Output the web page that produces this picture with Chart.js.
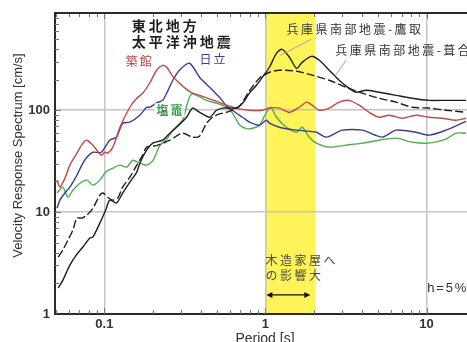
<!DOCTYPE html>
<html><head><meta charset="utf-8">
<script src="https://cdn.jsdelivr.net/npm/chart.js@4"></script>
<style>html,body{margin:0;padding:0;overflow:hidden;background:#fff}</style>
</head><body>
<canvas id="c" width="478" height="342"></canvas>
<script>
// ---- data ----
const periodRange = [0.0494, 20];
const velocityRange = [1, 900];
const xTickLabels = ['0.1', '1', '10'];
const yTickLabels = ['1', '10', '100'];
const woodHouseBand = [1, 2.05];

const tsukidatePeriod = [0.0508,0.053,0.0569,0.0611,0.0676,0.0736,0.0779,0.0849,0.0899,0.0958,0.1007,0.105,0.113,0.125,0.144,0.159,0.173,0.191,0.211,0.230,0.244,0.266,0.293,0.324,0.353,0.407,0.497,0.574,0.661,0.796,0.958,1.059,1.22,1.41,1.62,1.80,1.95,2.16,2.49,2.87,3.31,3.82,4.40,5.08,5.86,7.05,8.61,10.36,12.5,15.2,17.6];
const tsukidateVel = [20.6,17.6,21.5,28.9,37.9,47.5,50.8,45.4,40.5,36.2,38.7,37.9,43.4,68.1,107,131,147,184,247,276,264,215,184,160,147,137,122,112,105,100,100,105,105,95.5,107,120,112,100,105,120,125,112,95.5,85.4,89.3,83.5,89.3,85.4,83.5,79.8,83.5];

const hitachiPeriod = [0.0508,0.053,0.0569,0.0611,0.0676,0.0736,0.0779,0.0849,0.0958,0.108,0.119,0.130,0.144,0.166,0.183,0.191,0.211,0.230,0.244,0.266,0.293,0.338,0.390,0.450,0.519,0.574,0.661,0.721,0.796,0.918,1.014,1.059,1.22,1.56,2.07,2.39,3.0,3.99,5.30,6.47,8.61,10.36,13.2,16.6,17.6];
const hitachiVel = [10.9,13.1,15.4,17.6,23.1,30.2,34.6,38.7,38.7,50.8,54.4,74.6,76.3,89.3,107,107,118,125,147,197,247,289,211,168,134,110,93.5,85.4,76.3,71.3,79.8,74.6,68.1,63.7,60.8,54.4,63.7,63.7,54.4,63.7,60.8,56.9,63.7,74.6,77.9];

const shiogamaPeriod = [0.0508,0.0553,0.0594,0.0638,0.0705,0.0779,0.0849,0.0938,0.102,0.113,0.125,0.138,0.150,0.166,0.183,0.200,0.221,0.244,0.266,0.306,0.324,0.338,0.353,0.380,0.431,0.497,0.574,0.625,0.690,0.763,0.831,0.918,1.014,1.08,1.17,1.35,1.56,1.69,1.87,2.07,2.49,3.17,3.99,5.08,6.47,8.13,10.36,13.2,15.2,17.6];
const shiogamaVel = [15.4,17.6,14.0,16.4,19.2,20.6,18.4,20.6,24.7,27.0,28.9,27.6,32.3,30.2,28.9,32.0,45.0,52.0,63.7,80.0,110,135,145,138,125,117,107,93.5,72.0,66.0,66.6,71.3,95.5,107,85.4,68.1,60.8,68.1,54.4,47.5,43.4,45.4,47.5,50.8,53.2,48.6,47.5,52,59.5,59.5];

const takatoriPeriod = [0.0517,0.0553,0.0611,0.0676,0.0736,0.0813,0.0849,0.0938,0.102,0.108,0.119,0.130,0.144,0.159,0.166,0.183,0.200,0.230,0.255,0.281,0.324,0.353,0.390,0.450,0.497,0.542,0.598,0.661,0.721,0.796,0.880,0.958,1.059,1.17,1.27,1.41,1.56,1.69,1.93,2.16,2.49,2.87,3.31,3.66,4.22,5.08,6.47,8.13,10.36,13.2,17.6];
const takatoriVel = [1.80,2.15,3.02,3.87,4.54,5.56,5.69,7.80,10.5,13.1,12.3,15.4,19.7,24.7,30.2,40.5,47.5,50.8,59.5,68.1,85.4,105,95.5,85.4,100,105,105,105,117,147,176,211,264,362,396,331,258,295,338,309,247,197,164,150,157,150,140,131,125,125,125];

const fukiaiPeriod = [0.0517,0.0553,0.0594,0.0638,0.0676,0.0726,0.0779,0.0849,0.0938,0.0979,0.105,0.113,0.121,0.130,0.144,0.159,0.173,0.183,0.211,0.255,0.306,0.353,0.390,0.431,0.470,0.519,0.574,0.690,0.796,0.918,1.059,1.22,1.56,1.95,2.49,3.17,3.99,5.08,6.47,8.13,10.36,13.2,17.6];
const fukiaiVel = [3.62,4.24,5.31,6.66,8.73,8.73,9.35,10.9,14.7,15.4,14.0,13.1,13.7,17.6,22.0,28.9,36.2,43.4,45.0,50.8,59.5,54.4,55.6,74.6,85.4,92.0,95.5,110,155,206,236,247,241,221,197,168,147,131,120,107,105,100,95.5];

// ---- helpers ----
const zip = (xs, ys) => xs.slice(0, Math.min(xs.length, ys.length)).map((x, i) => ({x, y: ys[i]}));
const isPow10 = v => { const l = Math.log10(v); return Math.abs(l - Math.round(l)) < 1e-6; };
const labelFor = (v, list) => list.find(t => Math.abs(parseFloat(t) - v) <= 1e-6 * v) || '';

// annotation layout (data coordinates)
const notes = [
  {text:'東北地方', t:0.148, v:681, color:'#1e1e1e', font:'bold 14px "Noto Sans CJK JP"', sp:3},
  {text:'太平洋沖地震', t:0.148, v:470, color:'#1e1e1e', font:'bold 14px "Noto Sans CJK JP"', sp:3},
  {text:'築館', t:0.136, v:302, color:'#c0474a', font:'12px "Noto Sans CJK JP"', sp:2},
  {text:'日立', t:0.390, v:316, color:'#3d3d94', font:'12px "Noto Sans CJK JP"', sp:2},
  {text:'塩竈', t:0.211, v:100, color:'#3a9f4c', font:'bold 12px "Noto Sans CJK JP"', sp:2, bg:'#fff'},
  {text:'兵庫県南部地震-鷹取', t:1.35, v:623, color:'#333', font:'12px "Noto Sans CJK JP"', sp:2.5},
  {text:'兵庫県南部地震-葺合', t:2.71, v:387, color:'#333', font:'12px "Noto Sans CJK JP"', sp:2.5},
  {text:'木造家屋へ', t:1.0, v:3.38, color:'#4a4a3a', font:'12px "Noto Sans CJK JP"', sp:2.5},
  {text:'の影響大', t:1.0, v:2.41, color:'#4a4a3a', font:'12px "Noto Sans CJK JP"', sp:2.5},
  {text:'h=5%', t:10.1, v:1.80, color:'#333', font:'13px "Liberation Sans"', sp:1.8}
];
const leaders = [
  {t1:1.93, v1:497, t2:1.24, v2:346},
  {t1:3.17, v1:309, t2:2.67, v2:211}
];
const arrowSpan = {t1:1.014, t2:1.90, v:1.54};

function spacedWidth(ctx, text, sp) {
  let w = 0; for (const ch of text) w += ctx.measureText(ch).width + sp; return w - sp;
}
function drawSpaced(ctx, text, x, y, sp) {
  for (const ch of text) { ctx.fillText(ch, x, y); x += ctx.measureText(ch).width + sp; }
}

const decor = {
  id: 'decor',
  beforeDraw(chart) {
    const {ctx, chartArea: a, scales: {x}} = chart;
    const x1 = x.getPixelForValue(woodHouseBand[0]), x2 = x.getPixelForValue(woodHouseBand[1]);
    ctx.save();
    ctx.fillStyle = '#fff35a';
    ctx.fillRect(x1, a.top, x2 - x1, a.bottom - a.top);
    ctx.restore();
  },
  afterDatasetsDraw(chart) {
    const {ctx, scales: {x, y}} = chart;
    ctx.save();
    ctx.strokeStyle = '#a0a0a0'; ctx.lineWidth = 1;
    for (const l of leaders) {
      ctx.beginPath();
      ctx.moveTo(x.getPixelForValue(l.t1), y.getPixelForValue(l.v1));
      ctx.lineTo(x.getPixelForValue(l.t2), y.getPixelForValue(l.v2));
      ctx.stroke();
    }
    ctx.textBaseline = 'middle'; ctx.textAlign = 'left';
    for (const n of notes) {
      ctx.font = n.font;
      const px = x.getPixelForValue(n.t), py = y.getPixelForValue(n.v);
      if (n.bg) {
        ctx.fillStyle = n.bg;
        ctx.fillRect(px - 2, py - 7, spacedWidth(ctx, n.text, n.sp) + 4, 14);
      }
      ctx.fillStyle = n.color;
      drawSpaced(ctx, n.text, px, py, n.sp);
    }
    // arrow
    const ax1 = x.getPixelForValue(arrowSpan.t1), ax2 = x.getPixelForValue(arrowSpan.t2), ay = y.getPixelForValue(arrowSpan.v);
    ctx.strokeStyle = '#111'; ctx.fillStyle = '#111'; ctx.lineWidth = 1.2;
    ctx.beginPath(); ctx.moveTo(ax1 + 2, ay); ctx.lineTo(ax2 - 2, ay); ctx.stroke();
    ctx.beginPath(); ctx.moveTo(ax1, ay); ctx.lineTo(ax1 + 6, ay - 3); ctx.lineTo(ax1 + 6, ay + 3); ctx.closePath(); ctx.fill();
    ctx.beginPath(); ctx.moveTo(ax2, ay); ctx.lineTo(ax2 - 6, ay - 3); ctx.lineTo(ax2 - 6, ay + 3); ctx.closePath(); ctx.fill();
    ctx.restore();
  },
  afterDraw(chart) {
    const {ctx, chartArea: a, scales: {x, y}} = chart;
    ctx.save();
    // minor ticks
    ctx.strokeStyle = '#777'; ctx.lineWidth = 1;
    ctx.beginPath();
    for (let e = -2; e <= 2; e++) for (let m = 1; m <= 9; m++) {
      const v = m * Math.pow(10, e);
      if (v > periodRange[0] && v < periodRange[1]) {
        const px = Math.round(x.getPixelForValue(v)) + 0.5;
        const len = m === 1 ? 6 : 4;
        ctx.moveTo(px, a.bottom); ctx.lineTo(px, a.bottom - len);
        ctx.moveTo(px, a.top); ctx.lineTo(px, a.top + len);
      }
    }
    for (let e = 0; e <= 2; e++) for (let m = 1; m <= 9; m++) {
      const v = m * Math.pow(10, e);
      if (v > velocityRange[0] && v < velocityRange[1]) {
        const py = Math.round(y.getPixelForValue(v)) + 0.5;
        const len = m === 1 ? 6 : 4;
        ctx.moveTo(a.left, py); ctx.lineTo(a.left + len, py);
      }
    }
    ctx.stroke();
    // top frame
    ctx.strokeStyle = '#2a2a2a'; ctx.lineWidth = 2;
    ctx.beginPath(); ctx.moveTo(a.left, a.top); ctx.lineTo(a.right, a.top); ctx.stroke();
    // y title
    ctx.translate(18, (a.top + a.bottom) / 2 - 8);
    ctx.rotate(-Math.PI / 2);
    ctx.font = '13px "Liberation Sans"'; ctx.fillStyle = '#333';
    ctx.textAlign = 'center'; ctx.textBaseline = 'middle';
    ctx.fillText('Velocity Response Spectrum [cm/s]', 0, 0);
    ctx.restore();
  }
};

const lineDs = (label, px, vy, color, dash) => ({
  label, data: zip(px, vy), borderColor: color, borderWidth: 1.4,
  borderDash: dash || [], pointRadius: 0, tension: 0.25, fill: false
});

const gridColor = c => (c.tick && isPow10(c.tick.value)) ? '#c4c4c4' : 'rgba(0,0,0,0)';
const tickFont = {family: '"Liberation Sans", Arial', size: 13, weight: 'bold'};

new Chart(document.getElementById('c'), {
  type: 'line',
  data: {
    datasets: [
      lineDs('兵庫県南部地震-鷹取', takatoriPeriod, takatoriVel, '#1e1e1e'),
      lineDs('兵庫県南部地震-葺合', fukiaiPeriod, fukiaiVel, '#1e1e1e', [8, 3]),
      lineDs('築館', tsukidatePeriod, tsukidateVel, '#c0474a'),
      lineDs('日立', hitachiPeriod, hitachiVel, '#3d3d94'),
      lineDs('塩竈', shiogamaPeriod, shiogamaVel, '#4cae50')
    ]
  },
  options: {
    responsive: false, animation: false, devicePixelRatio: 1,
    layout: {padding: {top: 13, right: 2, left: 0, bottom: 0}},
    plugins: {legend: {display: false}, tooltip: {enabled: false}},
    scales: {
      x: {
        type: 'logarithmic', min: periodRange[0], max: periodRange[1],
        afterFit: s => { s.height = 28; },
        grid: {color: gridColor, lineWidth: 1.5, drawTicks: false},
        border: {color: '#2a2a2a', width: 2},
        ticks: {autoSkip: false, maxRotation: 0, padding: 3, color: '#333', font: tickFont,
          callback: v => labelFor(v, xTickLabels)},
        title: {display: true, text: 'Period [s]', color: '#333',
          font: {family: '"Liberation Sans", Arial', size: 14}, padding: {top: 0, bottom: -6}}
      },
      y: {
        type: 'logarithmic', min: velocityRange[0], max: velocityRange[1],
        afterFit: s => { s.width = 55; },
        grid: {color: gridColor, lineWidth: 1.5, drawTicks: false},
        border: {color: '#2a2a2a', width: 2},
        ticks: {autoSkip: false, padding: 5, color: '#333', font: tickFont,
          callback: v => labelFor(v, yTickLabels)}
      }
    }
  },
  plugins: [decor]
});
</script>
</body></html>
